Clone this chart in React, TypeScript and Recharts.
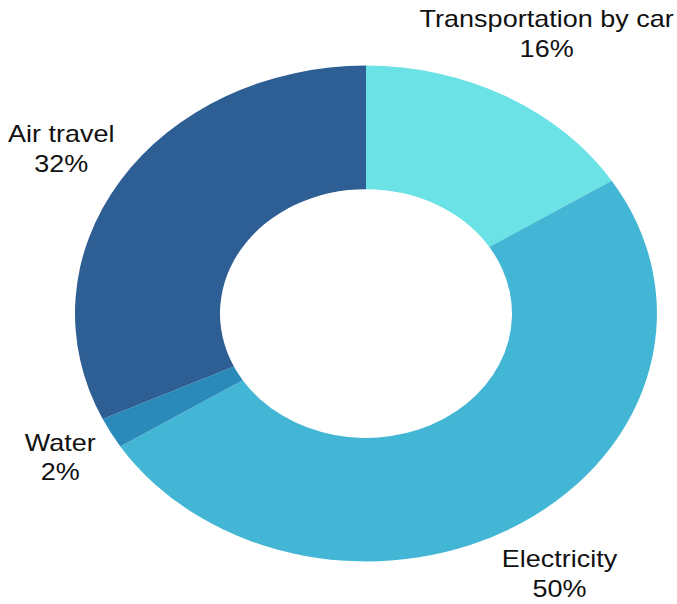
import React from "react";
import { PieChart, Pie, Cell } from "recharts";

const categories = ["Transportation by car", "Electricity", "Water", "Air travel"];
const shares = [16, 50, 2, 32];
const COLORS = ["#6BE2E6", "#42B6D4", "#2A8BBA", "#2D5E94"];

// extra distance of each label from the ring, matching the reference placement
const LABEL_PUSH = [14, 0, -12, 0];

const data = categories.map((name, i) => ({ name, value: shares[i] }));

// the reference is a circle squashed vertically, so draw round and scale the box
const SQUASH = 0.852;
const RADIAN = Math.PI / 180;

const renderLabel = ({ cx, cy, midAngle, outerRadius, index }) => {
  const radius = outerRadius + 70 + LABEL_PUSH[index];
  const x = cx + radius * Math.cos(-midAngle * RADIAN);
  const y = cy + radius * Math.sin(-midAngle * RADIAN);
  return (
    <text
      x={x}
      y={y}
      fill="#111"
      textAnchor="middle"
      dominantBaseline="central"
      style={{ fontFamily: "'Liberation Sans', Arial, sans-serif", fontSize: 27 }}
    >
      <tspan x={x} y={y - 17}>
        {categories[index]}
      </tspan>
      <tspan x={x} y={y + 18}>
        {shares[index]}%
      </tspan>
    </text>
  );
};

const App = () => {
  return (
    <div
      style={{
        position: "absolute",
        left: 0,
        top: 0,
        width: 677,
        height: 604,
        overflow: "hidden",
        background: "#fff",
      }}
    >
      <div style={{ transform: `scaleY(${SQUASH})`, transformOrigin: "0 0" }}>
        <PieChart width={677} height={709} margin={{ top: 0, right: 0, bottom: 0, left: 0 }}>
          <Pie
            data={data}
            dataKey="value"
            nameKey="name"
            cx={366}
            cy={368}
            innerRadius={146}
            outerRadius={291}
            startAngle={90}
            endAngle={-270}
            stroke="none"
            labelLine={false}
            label={renderLabel}
            isAnimationActive={false}
          >
            {data.map((entry, index) => (
              <Cell key={`cell-${index}`} fill={COLORS[index]} />
            ))}
          </Pie>
        </PieChart>
      </div>
    </div>
  );
};

export default App;
